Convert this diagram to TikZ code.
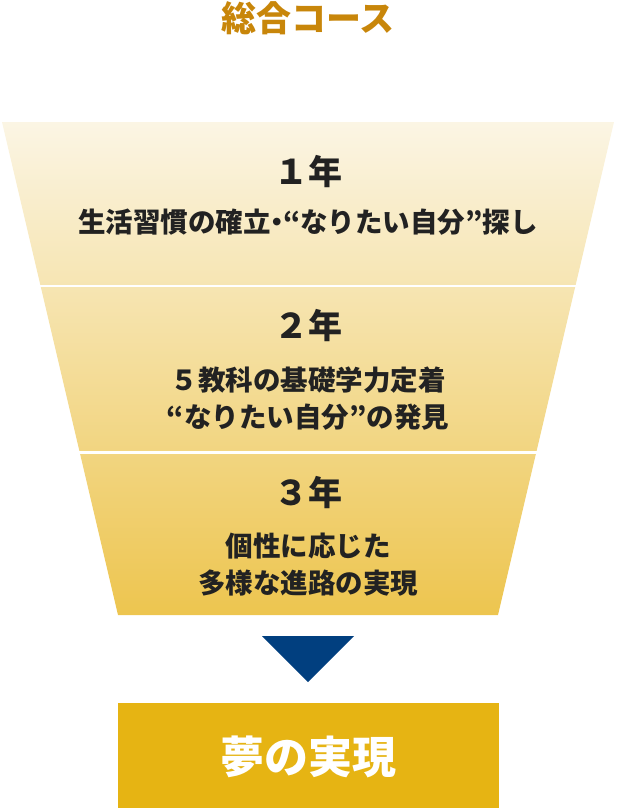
\documentclass[tikz,border=0pt]{standalone}
\usepackage{fontspec}
\usepackage{xcolor}
\usepackage{tikz}
\newfontfamily\jpfont{Noto Sans CJK JP}
\definecolor{titlegold}{HTML}{C8860A}
\definecolor{funneltop}{HTML}{FBF5E4}
\definecolor{funnelmid}{HTML}{F5E2AA}
\definecolor{funnelbot}{HTML}{EDC54F}
\definecolor{arrownavy}{HTML}{013F7F}
\definecolor{dreamgold}{HTML}{E6B413}
\definecolor{inkdark}{HTML}{222222}

\begin{document}
\begin{tikzpicture}[x=1pt,y=-1pt,line join=round,
    yearlabel/.style={inner sep=0pt,text=inkdark,font=\jpfont\bfseries\fontsize{34}{40}\selectfont},
    bandtext/.style={inner sep=0pt,align=center,text=inkdark,font=\jpfont\bfseries\fontsize{27.5}{37}\selectfont}]
  \useasboundingbox (0,0) rectangle (616,808);
  \coordinate (TL) at (2,122);
  \coordinate (TR) at (614,122);
  \coordinate (BR) at (498,615);
  \coordinate (BL) at (118,615);
  \coordinate (S1L) at (20,286);
  \coordinate (S1R) at (596,286);
  \coordinate (S2L) at (60,452.5);
  \coordinate (S2R) at (556,452.5);
  \coordinate (A1) at (262,636);
  \coordinate (A2) at (354,636);
  \coordinate (A3) at (308,682);
  % funnel
  \shade[top color=funneltop,middle color=funnelmid,bottom color=funnelbot] (TL) -- (TR) -- (BR) -- (BL) -- cycle;
  \draw[white,line width=2.5pt] (S1L) -- (S1R);
  \draw[white,line width=2.5pt] (S2L) -- (S2R);
  % arrow and goal
  \fill[arrownavy] (A1) -- (A2) -- (A3) -- cycle;
  \fill[dreamgold] (118,703) rectangle (499,808);
  \node[text=titlegold,inner sep=0pt,font=\jpfont\bfseries\fontsize{35}{40}\selectfont] (title) at (308,18) {総合コース};
  \node[yearlabel] (year1) at (308,172) {１年};
  \node[bandtext] (text1) at (308,222.5) {生活習慣の確立\makebox[0.45em]{・}“なりたい自分”探し};
  \node[yearlabel] (year2) at (308,326) {２年};
  \node[bandtext] (text2) at (308,398.5) {５教科の基礎学力定着\\“なりたい自分”の発見};
  \node[yearlabel] (year3) at (308,493) {３年};
  \node[bandtext] (text3) at (308,564.5) {個性に応じた\\多様な進路の実現};
  \node[text=white,inner sep=0pt,font=\jpfont\bfseries\fontsize{44}{50}\selectfont] (goal) at (308,757) {夢の実現};
\end{tikzpicture}
\end{document}
